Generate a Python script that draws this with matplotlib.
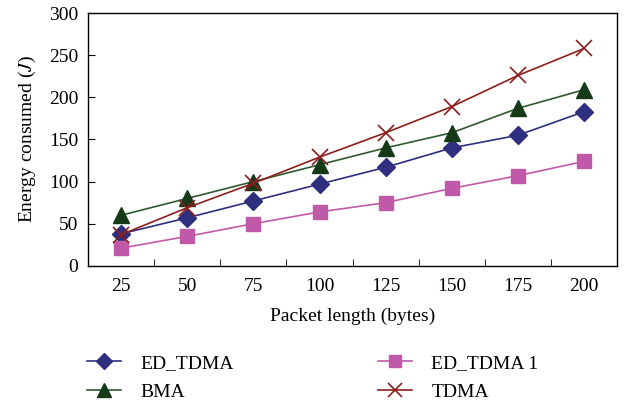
import numpy as np
import matplotlib
matplotlib.use("Agg")
import matplotlib.pyplot as plt

plt.rcParams['font.family'] = ['Liberation Serif', 'DejaVu Serif']
plt.rcParams['mathtext.fontset'] = 'stix'

packet_lengths = ["25", "50", "75", "100", "125", "150", "175", "200"]
ed_tdma = [38, 57, 77, 97, 117, 140, 155, 183]
bma = [60, 80, 100, 120, 140, 158, 187, 209]
ed_tdma1 = [21, 35, 50, 64, 75, 92, 107, 124]
tdma = [37, 69, 98, 129, 158, 189, 226, 258]

fig = plt.figure(figsize=(6.33, 4.09), dpi=100)
ax = fig.add_axes([0.139, 0.350, 0.836, 0.618])

x = np.arange(len(packet_lengths))
ax.plot(x, ed_tdma, color='#2e2f7f', marker='D', markersize=9, lw=1.2,
        label='ED_TDMA')
ax.plot(x, ed_tdma1, color='#c05aa8', marker='s', markersize=10, lw=1.2,
        label='ED_TDMA 1')
ax.plot(x, bma, color='#2f5a30', marker='^', markersize=11, lw=1.2,
        markerfacecolor='#143a17', markeredgecolor='#143a17', label='BMA')
ax.plot(x, tdma, color='#8e1e1e', marker='x', markersize=11, mew=1.2, lw=1.2,
        label='TDMA')

ax.set_xlim(-0.5, len(packet_lengths) - 0.5)
ax.set_ylim(0, 300)
ax.set_xticks(x)
ax.set_xticklabels(packet_lengths)
ax.set_xticks(np.arange(0.5, len(packet_lengths) - 0.5), minor=True)
ax.set_yticks(np.arange(0, 301, 50))
ax.tick_params(axis='x', which='major', length=0, pad=9, labelsize=14)
ax.tick_params(axis='x', which='minor', direction='in', length=5)
ax.tick_params(axis='y', direction='in', length=5, pad=7, labelsize=14)
for s in ax.spines.values():
    s.set_linewidth(1.0)

ax.set_xlabel('Packet length (bytes)', fontsize=14, labelpad=9)
ax.set_ylabel('Energy consumed ($J$)', fontsize=14, labelpad=8)

handles, labels = ax.get_legend_handles_labels()
order = [0, 2, 1, 3]
fig.legend([handles[i] for i in order], [labels[i] for i in order],
           loc='upper left', bbox_to_anchor=(0.125, 0.152), ncol=2,
           frameon=False, fontsize=14, handlelength=1.75, handletextpad=1.0,
           columnspacing=7.4, labelspacing=0.55, markerscale=0.9,
           borderaxespad=0)

fig.savefig('out.png', dpi=100)
